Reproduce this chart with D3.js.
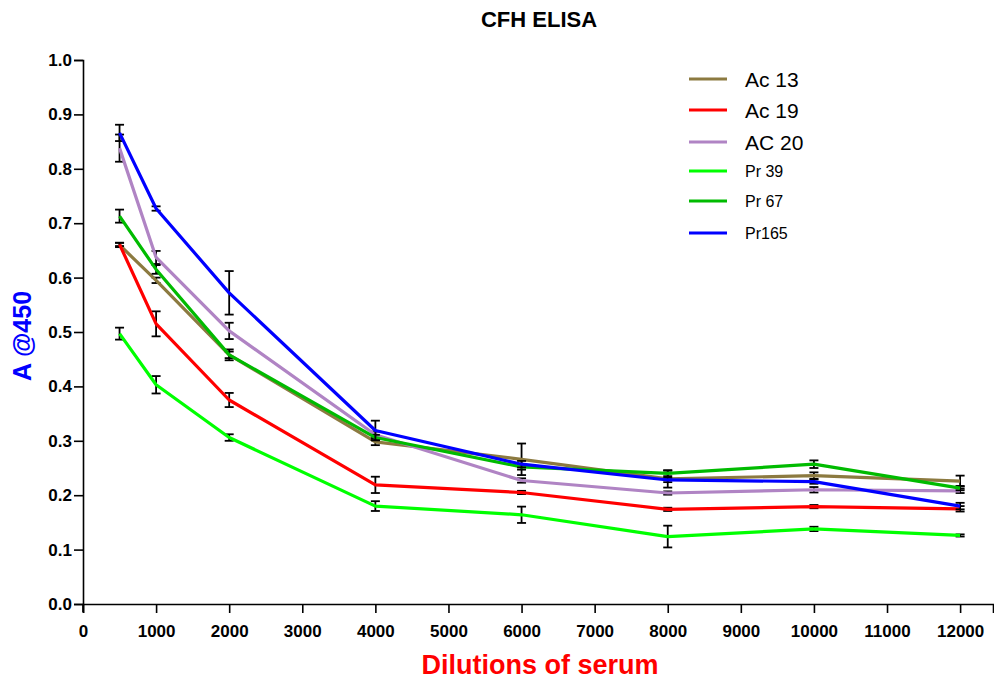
<!DOCTYPE html>
<html>
<head>
<meta charset="utf-8">
<script src="https://cdn.jsdelivr.net/npm/d3@7"></script>
<style>
  html, body { margin: 0; padding: 0; background: #fff; }
  svg { display: block; font-family: "Liberation Sans", Arial, sans-serif; }
</style>
</head>
<body>
<svg id="chart" width="994" height="679"></svg>
<script>
// ---- data ----
const dilutions = [500, 1000, 2000, 4000, 6000, 8000, 10000, 12000];
const seriesNames = ["Ac 13", "Ac 19", "AC 20", "Pr 39", "Pr 67", "Pr165"];
const seriesColors = ["#8c7a40", "#ff0000", "#b084c4", "#00ff00", "#00bb00", "#0000ff"];
const ac13 = [0.660, 0.595, 0.458, 0.298, 0.266, 0.230, 0.236, 0.226];
const ac19 = [0.661, 0.515, 0.375, 0.219, 0.205, 0.174, 0.179, 0.175];
const ac20 = [0.838, 0.637, 0.502, 0.311, 0.227, 0.204, 0.210, 0.208];
const pr39 = [0.497, 0.403, 0.306, 0.180, 0.164, 0.124, 0.138, 0.126];
const pr67 = [0.713, 0.615, 0.458, 0.306, 0.252, 0.240, 0.257, 0.213];
const pr165 = [0.866, 0.727, 0.572, 0.319, 0.257, 0.228, 0.225, 0.180];
const ac13Err = [0.004, 0.005, 0.010, 0.006, 0.029, 0.016, 0.006, 0.010];
const ac19Err = [0.003, 0.023, 0.013, 0.015, 0.003, 0.003, 0.003, 0.005];
const ac20Err = [0.025, 0.012, 0.015, 0.006, 0.004, 0.003, 0.005, 0.004];
const pr39Err = [0.011, 0.016, 0.006, 0.009, 0.015, 0.020, 0.004, 0.002];
const pr67Err = [0.012, 0.008, 0.006, 0.005, 0.005, 0.005, 0.007, 0.004];
const pr165Err = [0.015, 0.004, 0.040, 0.018, 0.006, 0.004, 0.004, 0.006];
const xTicks = [0, 1000, 2000, 3000, 4000, 5000, 6000, 7000, 8000, 9000, 10000, 11000, 12000];
const yTicks = [0, 0.1, 0.2, 0.3, 0.4, 0.5, 0.6, 0.7, 0.8, 0.9, 1.0];
const legendSizes = [21, 21, 21, 16, 16, 16];

const seriesValues = [ac13, ac19, ac20, pr39, pr67, pr165];
const seriesErrors = [ac13Err, ac19Err, ac20Err, pr39Err, pr67Err, pr165Err];

// ---- layout ----
const svg = d3.select("#chart");
const x = d3.scaleLinear().domain([0, 12450]).range([83, 993]);
const y = d3.scaleLinear().domain([0, 1]).range([604, 60]);

// axes
const xAxis = d3.axisBottom(x).tickValues(xTicks).tickFormat(d3.format("d")).tickSizeOuter(0).tickSize(9).tickPadding(12);
const yAxis = d3.axisLeft(y).tickValues(yTicks).tickFormat(d3.format(".1f")).tickSizeOuter(0).tickSize(9).tickPadding(2);

const gx = svg.append("g").attr("transform", "translate(0,604)").call(xAxis);
const gy = svg.append("g").attr("transform", "translate(83,0)").call(yAxis);
[gx, gy].forEach(g => {
  g.select(".domain").attr("stroke", "#000").attr("stroke-width", 1.6);
  g.selectAll(".tick line").attr("stroke", "#000").attr("stroke-width", 1.6);
  g.selectAll(".tick text").attr("fill", "#000").attr("font-size", 17).attr("font-weight", "bold")
    .attr("font-family", "'Liberation Sans', Arial, sans-serif");
});
// extend y axis slightly below the x axis
svg.append("line").attr("x1", 83).attr("x2", 83).attr("y1", 604).attr("y2", 612)
  .attr("stroke", "#000").attr("stroke-width", 1.6);

// series
const line = d3.line().x((d, i) => x(dilutions[i])).y(d => y(d));
seriesValues.forEach((vals, s) => {
  const g = svg.append("g");
  const errs = seriesErrors[s];
  vals.forEach((v, i) => {
    const cx = x(dilutions[i]);
    const y1 = y(v + errs[i]), y2 = y(v - errs[i]);
    g.append("line").attr("x1", cx).attr("x2", cx).attr("y1", y1).attr("y2", y2)
      .attr("stroke", "#000").attr("stroke-width", 1.8);
    [y1, y2].forEach(yy => g.append("line").attr("x1", cx - 4.5).attr("x2", cx + 4.5)
      .attr("y1", yy).attr("y2", yy).attr("stroke", "#000").attr("stroke-width", 1.8));
  });
  g.append("path").datum(vals).attr("d", line).attr("fill", "none")
    .attr("stroke", seriesColors[s]).attr("stroke-width", 3.2).attr("stroke-linejoin", "round");
});

// legend
const legendY = [79, 110, 142, 171, 201, 233];
seriesNames.forEach((name, s) => {
  svg.append("line").attr("x1", 689).attr("x2", 727).attr("y1", legendY[s]).attr("y2", legendY[s])
    .attr("stroke", seriesColors[s]).attr("stroke-width", 3.2);
  svg.append("text").attr("x", 745).attr("y", legendY[s]).attr("dy", "0.36em")
    .attr("font-size", legendSizes[s]).attr("fill", "#000").text(name);
});

// titles
svg.append("text").attr("x", 539).attr("y", 27).attr("text-anchor", "middle")
  .attr("font-size", 22).attr("font-weight", "bold").text("CFH ELISA");
svg.append("text").attr("x", 540).attr("y", 674).attr("text-anchor", "middle")
  .attr("font-size", 27).attr("font-weight", "bold").attr("fill", "#ff0000").text("Dilutions of serum");
svg.append("text").attr("transform", "translate(31,336) rotate(-90)").attr("text-anchor", "middle")
  .attr("font-size", 25).attr("font-weight", "bold").attr("fill", "#0000ff").text("A @450");
</script>
</body>
</html>
